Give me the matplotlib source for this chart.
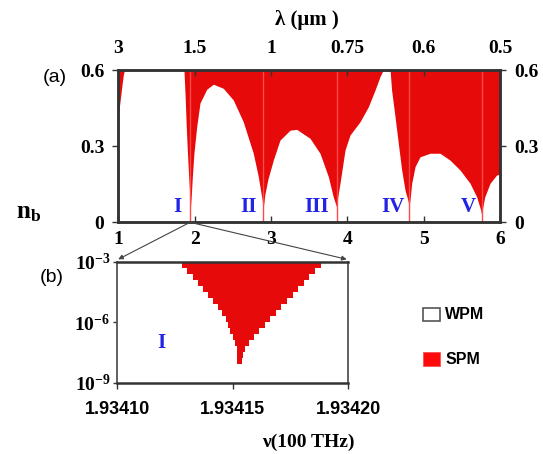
import matplotlib
matplotlib.use("Agg")
import matplotlib.pyplot as plt
from matplotlib.patches import Rectangle, ConnectionPatch

plt.rcParams["mathtext.fontset"] = "custom"
plt.rcParams["mathtext.rm"] = "Liberation Serif"
plt.rcParams["mathtext.bf"] = "Liberation Serif:bold"
plt.rcParams["mathtext.it"] = "Liberation Serif:italic"

SERIF = "Liberation Serif"
SANS = "Liberation Sans"
RED = "#e60a0a"
LINE_RED = "#ff4a4a"
BLUE = "#2323e6"
SPINE = "#333333"
TICK_SIZE = 14

# ---- panel (a): SPM threshold n_b versus frequency (100 THz) ----
nu_edge = [1.00, 1.02, 1.044, 1.065, 1.08, 1.86,
           1.875, 1.89, 1.904, 1.92, 1.935, 1.945,
           1.955, 1.97, 1.99, 2.027, 2.07, 2.158, 2.244, 2.375, 2.506, 2.637,
           2.768, 2.834, 2.878, 2.90,
           2.92, 2.96, 3.03, 3.118, 3.25, 3.337, 3.511, 3.642, 3.751, 3.816, 3.86,
           3.875, 3.904, 3.97, 4.035, 4.166, 4.275, 4.363, 4.428, 4.47, 4.56,
           4.58, 4.625, 4.668, 4.712, 4.756, 4.795, 4.81,
           4.825, 4.843, 4.887, 4.952, 5.083, 5.214, 5.345, 5.476, 5.607, 5.695,
           5.745, 5.76,
           5.775, 5.80, 5.87, 5.955, 6.00]
nb_edge = [0.42, 0.47, 0.53, 0.58, 0.60, 0.60,
           0.50, 0.38, 0.285, 0.19, 0.11, 0.06,
           0.10, 0.18, 0.27, 0.377, 0.47, 0.524, 0.544, 0.528, 0.482, 0.396,
           0.272, 0.18, 0.10, 0.06,
           0.11, 0.17, 0.245, 0.324, 0.363, 0.366, 0.331, 0.272, 0.18, 0.10, 0.06,
           0.10, 0.154, 0.285, 0.344, 0.396, 0.455, 0.521, 0.574, 0.60, 0.60,
           0.521, 0.416, 0.311, 0.206, 0.127, 0.085, 0.06,
           0.10, 0.154, 0.219, 0.258, 0.272, 0.272, 0.245, 0.206, 0.154, 0.10,
           0.05, 0.03,
           0.06, 0.10, 0.154, 0.186, 0.19]

resonance_nu = [1.945, 2.90, 3.86, 4.81, 5.76]
resonance_names = ["I", "II", "III", "IV", "V"]
name_nu = [1.77, 2.70, 3.60, 4.60, 5.585]

nu_ticks = [1, 2, 3, 4, 5, 6]
lambda_labels = ["3", "1.5", "1", "0.75", "0.6", "0.5"]
nb_ticks = [0, 0.3, 0.6]
nb_labels = ["0", "0.3", "0.6"]

# ---- panel (b): zoom on resonance I, stepped SPM region ----
logn_rows = [-3.0, -3.3, -3.6, -3.9, -4.2, -4.5, -4.8, -5.1, -5.4, -5.7,
             -6.0, -6.3, -6.6, -6.9, -7.2, -7.5, -7.8, -8.1]
nu_left = [1.9341280, 1.9341303, 1.9341326, 1.9341349, 1.9341371, 1.9341394,
           1.9341416, 1.9341436, 1.9341452, 1.9341470, 1.9341478, 1.9341488,
           1.9341499, 1.9341509, 1.9341517, 1.9341517, 1.9341517]
nu_right = [1.9341880, 1.9341855, 1.9341830, 1.9341807, 1.9341783, 1.9341759,
            1.9341735, 1.9341710, 1.9341687, 1.9341662, 1.9341639, 1.9341615,
            1.9341590, 1.9341568, 1.9341554, 1.9341546, 1.9341539]
inset_nu_ticks = [1.93410, 1.93415, 1.93420]
inset_nu_labels = ["1.93410", "1.93415", "1.93420"]
inset_n_ticks = [1e-9, 1e-6, 1e-3]
inset_n_labels = [r"$\mathbf{10^{-9}}$", r"$\mathbf{10^{-6}}$", r"$\mathbf{10^{-3}}$"]

W, H = 543, 454
fig = plt.figure(figsize=(W / 100, H / 100), dpi=100)


def fbox(x0, y0, x1, y1):
    return [x0 / W, 1 - y1 / H, (x1 - x0) / W, (y1 - y0) / H]


def style_labels(labels):
    for lab in labels:
        lab.set_family(SERIF)
        lab.set_weight("bold")
        lab.set_size(TICK_SIZE)
        lab.set_color("black")


# ----- top panel -----
ax = fig.add_axes(fbox(118.3, 70, 500, 222.3))
ax.fill_between(nu_edge, nb_edge, 0.6, color=RED, lw=0)
ax.vlines(resonance_nu, 0, 0.6, color=LINE_RED, lw=1.0)
for name, x in zip(resonance_names, name_nu):
    ax.text(x, 0.06, name, color=BLUE, ha="center", va="center",
            family=SERIF, weight="bold", size=15)
ax.set_xlim(1, 6)
ax.set_ylim(0, 0.6)
ax.set_xticks(nu_ticks)
ax.set_xticklabels([str(t) for t in nu_ticks])
ax.set_yticks(nb_ticks)
ax.set_yticklabels(nb_labels)
ax.tick_params(axis="x", direction="in", length=4, width=1, pad=6, colors=SPINE)
ax.tick_params(axis="y", direction="out", length=4, width=1, pad=6, colors=SPINE,
               right=True, labelright=True)
style_labels(ax.get_xticklabels())
for t in ax.yaxis.get_major_ticks():
    style_labels([t.label1, t.label2])
for sp in ax.spines.values():
    sp.set_linewidth(1.8)
    sp.set_color(SPINE)

axt = ax.twiny()
axt.set_xlim(1, 6)
axt.set_xticks(nu_ticks)
axt.set_xticklabels(lambda_labels)
axt.tick_params(axis="x", direction="in", length=4, width=1, pad=9, colors=SPINE)
style_labels(axt.get_xticklabels())
for sp in axt.spines.values():
    sp.set_linewidth(1.8)
    sp.set_color(SPINE)

# ----- inset panel -----
axi = fig.add_axes(fbox(117.3, 261.5, 348.3, 382.5))
rows_n = [10 ** v for v in logn_rows]
axi.fill_betweenx(rows_n, nu_left + [nu_left[-1]], nu_right + [nu_right[-1]],
                  step="post", color=RED, lw=0)
axi.set_yscale("log")
axi.set_ylim(1e-9, 1e-3)
axi.set_xlim(1.93410, 1.93420)
axi.set_xticks(inset_nu_ticks)
axi.set_xticklabels(inset_nu_labels, family=SANS, weight="bold", size=13)
axi.set_yticks(inset_n_ticks)
axi.set_yticklabels(inset_n_labels, size=14)
axi.minorticks_off()
axi.tick_params(axis="x", direction="out", length=4, width=1, pad=9, colors=SPINE,
                labelcolor="black")
axi.tick_params(axis="y", direction="out", length=3, width=1, pad=2, colors=SPINE,
                labelcolor="black")
axi.text(1.934119, 10 ** -7.05, "I", color=BLUE, ha="center", va="center",
         family=SERIF, weight="bold", size=15)
for side, sp in axi.spines.items():
    sp.set_color(SPINE if side in ("top", "bottom") else "#555555")
    sp.set_linewidth(1.8 if side in ("top", "bottom") else 1.3)

# zoom connectors from resonance I to the inset
for xb in (0.004, 0.993):
    con = ConnectionPatch(xyA=(1.94, 0), coordsA="data", axesA=ax,
                          xyB=(xb, 1.018), coordsB="axes fraction", axesB=axi,
                          arrowstyle="-|>", mutation_scale=7, color="#444444",
                          lw=0.8, shrinkA=0, shrinkB=0)
    fig.add_artist(con)

# ----- labels -----
fig.text(307 / W, 1 - 20 / H, "λ (μm )", family=SERIF, weight="bold", size=15,
         ha="center", va="center")
fig.text(29 / W, 1 - 212 / H, r"$\mathbf{n}_{\mathbf{b}}$", size=18,
         ha="center", va="center")
fig.text(55 / W, 1 - 77 / H, "(a)", family=SANS, size=14, ha="center", va="center")
fig.text(52 / W, 1 - 278 / H, "(b)", family=SANS, size=14, ha="center", va="center")
fig.text(308 / W, 1 - 442 / H, "ν(100 THz)", family=SERIF, weight="bold", size=14,
         ha="center", va="center")

# ----- legend -----
fig.add_artist(Rectangle((422.7 / W, 1 - 320.7 / H), 17.3 / W, 12.4 / H,
                         transform=fig.transFigure, fc="white", ec="#555555", lw=1.2))
fig.add_artist(Rectangle((423 / W, 1 - 366 / H), 17 / W, 14.3 / H,
                         transform=fig.transFigure, fc="#ff0a0a", ec="#ff5050", lw=0.6))
fig.text(445 / W, 1 - 314.5 / H, "WPM", family=SANS, weight="bold", size=11.5,
         ha="left", va="center")
fig.text(446 / W, 1 - 359 / H, "SPM", family=SANS, weight="bold", size=11.5,
         ha="left", va="center")

fig.savefig("out.png", dpi=100)
